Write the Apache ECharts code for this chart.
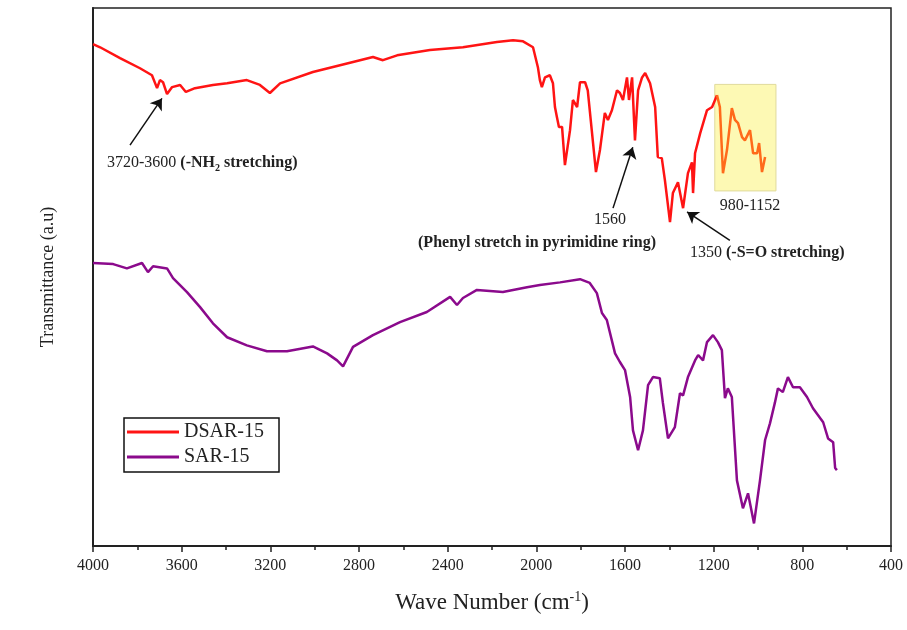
<!DOCTYPE html>
<html><head><meta charset="utf-8">
<script src="https://cdn.jsdelivr.net/npm/echarts@6/dist/echarts.min.js"></script>
<style>html,body{margin:0;padding:0;background:#fff}#c{width:907px;height:630px}</style>
</head><body><div id="c"></div>
<script>
// ---- Data (wave number in cm-1, transmittance in arbitrary units) ----
const dsarWave = [4000,3968,3878,3788,3734,3711,3698,3684,3666,3643,3607,3581,3540,3459,3395,3306,3247,3202,3156,3008,2854,2737,2692,2628,2480,2331,2178,2105,2060,2015,1993,1984,1975,1961,1939,1925,1916,1907,1898,1884,1871,1848,1835,1816,1803,1780,1768,1750,1731,1713,1691,1677,1659,1636,1623,1609,1591,1582,1568,1555,1541,1523,1509,1487,1464,1452,1434,1420,1397,1384,1361,1338,1316,1298,1293,1284,1261,1230,1207,1185];
const dsarT    = [93.7,93.1,91.1,89.2,87.9,85.5,87.0,86.6,84.4,85.7,86.1,84.8,85.5,86.1,86.4,87.0,86.1,84.6,86.4,88.5,90.1,91.3,90.7,91.6,92.6,93.1,94.1,94.4,94.2,93.1,89.4,87.0,85.7,87.5,87.9,86.4,82.0,80.1,78.3,78.3,71.2,77.7,83.3,82.0,86.6,86.6,85.1,77.7,69.9,74.0,80.9,79.6,81.4,85.1,84.6,83.3,87.5,83.3,87.5,75.8,85.1,87.5,88.3,86.4,82.0,72.7,72.5,68.4,60.6,66.0,68.0,63.2,69.7,71.7,66.0,73.4,77.1,81.4,82.0,84.2];

const hiWave = [1185,1172,1158,1140,1118,1104,1090,1072,1059,1036,1022,1004,995,982,968];
const hiT    = [84.2,82.0,69.7,74.0,81.8,79.6,79.0,76.4,75.8,77.7,73.4,73.4,75.3,69.9,72.7];

const sarWave = [4000,3909,3847,3779,3752,3729,3666,3639,3576,3517,3459,3395,3306,3215,3125,3008,2944,2899,2872,2827,2737,2615,2494,2389,2358,2331,2268,2151,2042,1984,1893,1803,1759,1727,1704,1682,1645,1623,1600,1577,1564,1541,1519,1496,1474,1443,1429,1406,1375,1352,1338,1316,1284,1270,1248,1230,1203,1181,1163,1149,1136,1118,1095,1068,1045,1018,991,968,946,924,910,888,865,842,811,779,752,706,684,661,652,644];
const sarT    = [53.0,52.8,52.0,53.0,51.3,52.4,52.0,50.2,47.6,44.8,41.8,39.2,37.7,36.6,36.6,37.5,36.2,34.9,33.8,37.4,39.6,42.0,43.9,46.7,45.2,46.5,48.0,47.6,48.5,48.9,49.4,50.0,49.3,47.4,43.7,42.4,36.2,34.6,33.1,28.1,21.9,18.2,21.9,30.3,31.8,31.6,27.0,20.4,22.5,28.8,28.4,31.8,34.9,35.9,34.9,38.3,39.6,38.3,36.8,27.9,29.7,28.1,12.6,7.4,10.2,4.6,12.6,20.1,23.2,27.0,29.7,29.0,31.8,29.9,29.9,28.1,26.0,23.4,20.4,19.7,14.9,14.5];

const seriesNames = ['DSAR-15', 'SAR-15'];
const xMin = 400, xMax = 4000, xStep = 400;

// annotation anchors (data coordinates): [tailWave, tailT, headWave, headT]
const arrows = [
  [3833, 74.9, 3689, 83.6],
  [1654, 63.2, 1565, 74.5],
  [1127, 57.2, 1320, 62.5]
];
const highlightBox = [1195, 86.2, 919, 66.4];

const zip = (xs, ys) => xs.map((x, i) => [x, ys[i]]);
const SERIF = '"Liberation Serif", "Times New Roman", serif';

const chart = echarts.init(document.getElementById('c'));
chart.setOption({
  animation: false,
  backgroundColor: '#fff',
  grid: { left: 93, right: 16, top: 8, bottom: 84, show: true, borderColor: '#222', borderWidth: 1.5 },
  legend: {
    data: seriesNames.map(n => ({ name: n, icon: 'rect' })), orient: 'vertical', left: 124, top: 418,
    itemWidth: 52, itemHeight: 3, itemGap: 5, padding: [4, 15, 5, 3],
    borderColor: '#111', borderWidth: 1.5,
    textStyle: { fontFamily: SERIF, fontSize: 20, color: '#222', lineHeight: 20 }
  },
  xAxis: {
    type: 'value', inverse: true, min: xMin, max: xMax, interval: xStep,
    axisLine: { show: true, onZero: false, lineStyle: { color: '#222', width: 2 } },
    axisTick: { show: true, inside: false, length: 6, lineStyle: { color: '#222', width: 1.5 } },
    minorTick: { show: true, splitNumber: 2, length: 4, lineStyle: { color: '#222', width: 1.5 } },
    splitLine: { show: false },
    axisLabel: { fontFamily: SERIF, fontSize: 16, color: '#222', margin: 12, showMinLabel: true, showMaxLabel: true,
      formatter: v => String(v) },
    name: 'Wave Number (cm{sup|-1})', nameLocation: 'middle', nameGap: 44,
    nameTextStyle: { fontFamily: SERIF, fontSize: 23, color: '#222', lineHeight: 26,
      rich: { sup: { fontFamily: SERIF, fontSize: 14, color: '#222', verticalAlign: 'top', lineHeight: 26 } } }
  },
  yAxis: {
    type: 'value', min: 0.4, max: 100.4,
    axisLine: { show: true, lineStyle: { color: '#222', width: 2 } },
    axisTick: { show: false }, axisLabel: { show: false }, splitLine: { show: false },
    name: 'Transmittance (a.u)', nameLocation: 'middle', nameGap: 36,
    nameTextStyle: { fontFamily: SERIF, fontSize: 18, color: '#222' }
  },
  series: [
    { name: seriesNames[0], type: 'line', data: zip(dsarWave, dsarT), symbol: 'none', z: 3,
      color: '#ff1414', lineStyle: { color: '#ff1414', width: 2.5 } },
    { name: 'highlight', type: 'line', data: zip(hiWave, hiT), symbol: 'none', z: 3,
      color: '#ff6a1a', lineStyle: { color: '#ff6a1a', width: 2.5 },
      markArea: { silent: true, itemStyle: { color: '#fdf9b4', borderColor: '#e0da9c', borderWidth: 1 },
        data: [[{ coord: [highlightBox[0], highlightBox[1]] }, { coord: [highlightBox[2], highlightBox[3]] }]] } },
    { name: seriesNames[1], type: 'line', data: zip(sarWave, sarT), symbol: 'none', z: 3,
      color: '#8b0a8c', lineStyle: { color: '#8b0a8c', width: 2.5 },
      markLine: { silent: true, symbol: ['none', 'arrow'], symbolSize: 11,
        lineStyle: { color: '#111', width: 1.5, type: 'solid' }, label: { show: false },
        data: arrows.map(a => [{ coord: [a[0], a[1]] }, { coord: [a[2], a[3]] }]) } }
  ],
  graphic: [
    { type: 'text', x: 107, y: 163, style: { text: '3720-3600 {b|(-NH}{s|2}{b| stretching)}', fill: '#222',
        font: '16px ' + SERIF, lineHeight: 20, textVerticalAlign: 'middle',
        rich: { b: { font: 'bold 16px ' + SERIF, fill: '#222', lineHeight: 20 },
                s: { font: 'bold 10px ' + SERIF, fill: '#222', lineHeight: 20, verticalAlign: 'bottom' } } } },
    { type: 'text', x: 610, y: 220, style: { text: '1560', fill: '#222', font: '16px ' + SERIF, textAlign: 'center', textVerticalAlign: 'middle' } },
    { type: 'text', x: 537, y: 243, style: { text: '(Phenyl stretch in pyrimidine ring)', fill: '#222', font: 'bold 16px ' + SERIF, textAlign: 'center', textVerticalAlign: 'middle' } },
    { type: 'text', x: 750, y: 206, style: { text: '980-1152', fill: '#222', font: '16px ' + SERIF, textAlign: 'center', textVerticalAlign: 'middle' } },
    { type: 'text', x: 690, y: 253, style: { text: '1350 {b|(-S=O stretching)}', fill: '#222', font: '16px ' + SERIF, textVerticalAlign: 'middle',
        rich: { b: { font: 'bold 16px ' + SERIF, fill: '#222' } } } }
  ]
});
</script></body></html>
